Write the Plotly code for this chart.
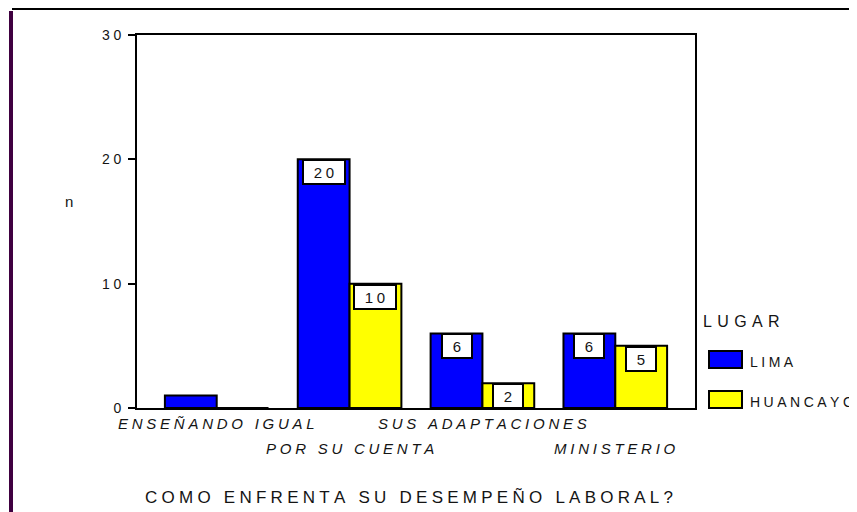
import plotly.graph_objects as go

# data
categories = ["ENSEÑANDO IGUAL", "POR SU CUENTA", "SUS ADAPTACIONES", "MINISTERIO"]
lima = [1, 20, 6, 6]
huancayo = [0, 10, 2, 5]
lima_labels = [None, 20, 6, 6]
huancayo_labels = [None, 10, 2, 5]
y_ticks = [0, 10, 20, 30]

FONT = "Liberation Sans, Arial, sans-serif"
INK = "#141414"


def spaced(s, gap="\u2009"):
    # fake letter-spacing, the original has wide tracking everywhere
    return gap.join(s)


xs = list(range(len(categories)))

fig = go.Figure()
fig.add_trace(go.Bar(x=xs, y=lima, name="LIMA", marker=dict(color="#0000ff", line=dict(color="black", width=2))))
fig.add_trace(go.Bar(x=xs, y=huancayo, name="HUANCAYO", marker=dict(color="#ffff00", line=dict(color="black", width=2))))

# page body has an 8px margin, so the figure is shrunk by that much
fig.update_layout(
    width=849, height=504,
    margin=dict(l=129, r=162, t=27, b=104),
    paper_bgcolor="white", plot_bgcolor="white",
    barmode="group", bargap=0.22, bargroupgap=0,
    showlegend=False,
    font=dict(family=FONT, size=12, color=INK),
)

fig.update_xaxes(range=[-0.6, 3.6], showticklabels=False, ticks="",
                 showline=True, linecolor="black", linewidth=2, mirror=True,
                 showgrid=False, zeroline=False)
fig.update_yaxes(range=[0, 30], tickvals=y_ticks, ticktext=[spaced(str(v), "\u2005") for v in y_ticks],
                 ticks="outside", ticklen=7, tickwidth=2, tickcolor="black", ticklabelstandoff=4,
                 showline=True, linecolor="black", linewidth=2, mirror=True,
                 showgrid=False, zeroline=False, tickfont=dict(size=14))

annotations = []

# category labels, staggered on two rows
for i, cat in enumerate(categories):
    annotations.append(dict(x=i, y=0, xref="x", yref="paper", yanchor="middle",
                            yshift=-15 if i % 2 == 0 else -40, showarrow=False,
                            text="<i>" + spaced(cat, "\u2005") + "</i>",
                            font=dict(size=15, color=INK)))

# value boxes at the top of the bars
for vals, labels, off in [(lima, lima_labels, -0.195), (huancayo, huancayo_labels, 0.195)]:
    for i, (v, lab) in enumerate(zip(vals, labels)):
        if lab is None:
            continue
        txt = spaced(str(lab), "\u2005")
        annotations.append(dict(x=i + off, y=v, xref="x", yref="y", yanchor="top", showarrow=False,
                                text=txt, width=28 if lab < 10 else 40, height=22,
                                bgcolor="white", bordercolor="black", borderwidth=2, borderpad=0,
                                font=dict(size=15, color=INK)))

# axis titles
annotations.append(dict(x=0, y=0, xref="paper", yref="paper", xanchor="center", yanchor="middle",
                        xshift=-68, yshift=207, showarrow=False, text="n", font=dict(size=15)))
annotations.append(dict(x=0.5, y=0, xref="paper", yref="paper", yanchor="middle", xshift=-7,
                        yshift=-89, showarrow=False, text=spaced("COMO ENFRENTA SU DESEMPEÑO LABORAL?", "\u2005"),
                        font=dict(size=17)))

# hand-made legend
annotations.append(dict(x=1, y=0, xref="paper", yref="paper", xanchor="left", yanchor="middle",
                        xshift=6, yshift=87, showarrow=False, text=spaced("LUGAR", "\u2004"), font=dict(size=16)))
annotations.append(dict(x=1, y=0, xref="paper", yref="paper", xanchor="left", yanchor="middle",
                        xshift=53, yshift=46, showarrow=False, text=spaced("LIMA", "\u2005"), font=dict(size=14)))
annotations.append(dict(x=1, y=0, xref="paper", yref="paper", xanchor="left", yanchor="middle",
                        xshift=53, yshift=6, showarrow=False, text=spaced("HUANCAYO", "\u2005"), font=dict(size=14)))

shapes = [
    dict(type="rect", xref="paper", yref="paper", xsizemode="pixel", ysizemode="pixel",
         xanchor=1, yanchor=0, x0=14, x1=47, y0=40, y1=57,
         fillcolor="#0000ff", line=dict(color="black", width=2)),
    dict(type="rect", xref="paper", yref="paper", xsizemode="pixel", ysizemode="pixel",
         xanchor=1, yanchor=0, x0=14, x1=47, y0=0, y1=17,
         fillcolor="#ffff00", line=dict(color="black", width=2)),
    # page frame: top rule and purple left bar
    dict(type="line", xref="paper", yref="paper", xsizemode="pixel", ysizemode="pixel",
         xanchor=0, yanchor=0, x0=-125, x1=725, y0=399, y1=399, line=dict(color="black", width=2)),
    dict(type="rect", xref="paper", yref="paper", xsizemode="pixel", ysizemode="pixel",
         xanchor=0, yanchor=0, x0=-128, x1=-124, y0=-110, y1=397,
         fillcolor="#3f0040", line=dict(width=0)),
]

fig.update_layout(annotations=annotations, shapes=shapes)

fig.write_html("out.html")
